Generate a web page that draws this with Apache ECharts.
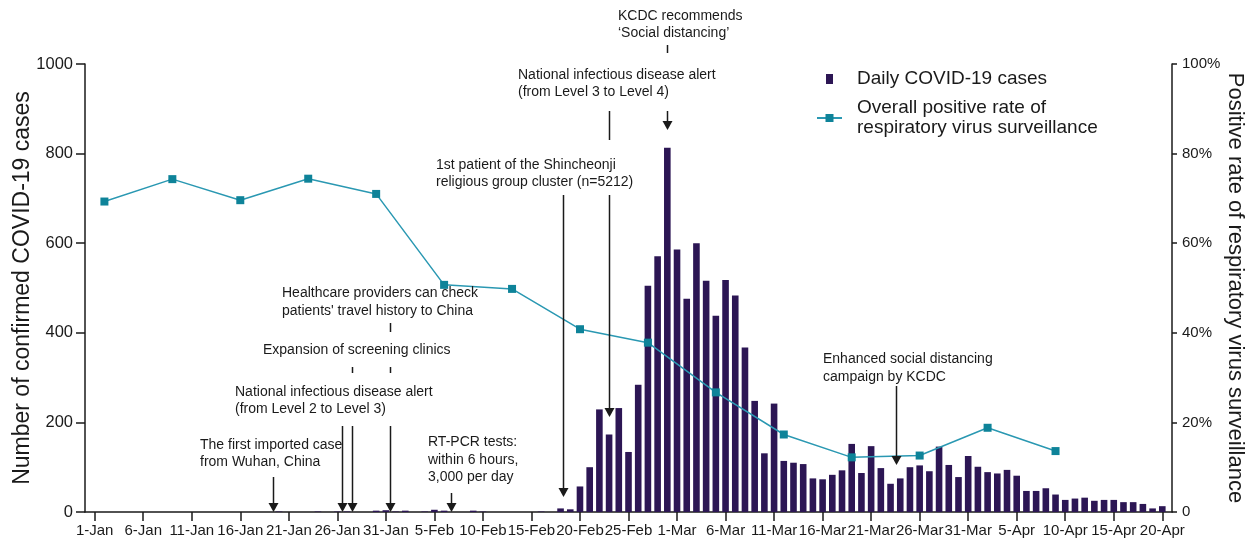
<!DOCTYPE html>
<html>
<head>
<meta charset="utf-8">
<script src="https://cdn.jsdelivr.net/npm/echarts@6/dist/echarts.min.js"></script>
<style>
  html, body { margin: 0; padding: 0; background: #ffffff; }
  #chart { width: 1257px; height: 543px; }
</style>
</head>
<body>
<div id="chart"></div>
<script>
// Daily confirmed COVID-19 cases, one value per day
const casesJan = [0,0,0,0,0,0,0,0,0,0, 0,0,0,0,0,0,0,0,0,1, 0,0,0,1,0,1,1,0,0,3, 4];
const casesFeb = [1,3,0,1,5,3,0,0,3,1, 0,0,0,0,0,1,0,8,6,57, 100,229,173,232,134,284,505,571,813];
const casesMar = [586,476,600,516,438,518,483,367,248,131, 242,114,110,107,75,73,83,93,152,87, 147,98,63,75,100,104,91,146,105,78, 125];
const casesApr = [101,89,86,94,81,47,47,53,39,27, 30,32,25,27,27,22,22,18,8,13];

// Weekly overall positive rate of respiratory virus surveillance (%)
const rateDates  = ['2-Jan','9-Jan','16-Jan','23-Jan','30-Jan','6-Feb','13-Feb','20-Feb','27-Feb','5-Mar','12-Mar','19-Mar','26-Mar','2-Apr','9-Apr'];
const rateValues = [69.3, 74.3, 69.6, 74.4, 71.0, 50.7, 49.8, 40.8, 37.8, 26.7, 17.3, 12.2, 12.6, 18.8, 13.6];

// Axis calendar: 31-Dec through 21-Apr, labelled every 5 days from 1-Jan to 20-Apr
const monthNames = ['Jan', 'Feb', 'Mar', 'Apr'];
const monthDays  = [31, 29, 31, 21];
const leftTicks  = [0, 200, 400, 600, 800, 1000];
const rightTicks = [0, 20, 40, 60, 80, 100];

const categories = ['31-Dec'];
monthNames.forEach((m, i) => {
  for (let d = 1; d <= monthDays[i]; d++) categories.push(d + '-' + m);
});
const caseValues = [].concat(casesJan, casesFeb, casesMar, casesApr);
const barData = caseValues.map((v, i) => [categories[i + 1], v]);
const lineData = rateDates.map((d, i) => [d, rateValues[i]]);
const lastLabelIndex = caseValues.length; // 20-Apr
const showDayMark = (idx) => idx >= 1 && idx <= lastLabelIndex && (idx - 1) % 5 === 0;

const SERIES_CASES = 'Daily COVID-19 cases';
const SERIES_RATE = 'Overall positive rate of\nrespiratory virus surveillance';

const FONT = '"Liberation Sans", Arial, Helvetica, sans-serif';
const INK = '#1a1a1a';

const chart = echarts.init(document.getElementById('chart'), null, { renderer: 'canvas' });

chart.setOption({
  animation: false,
  backgroundColor: '#ffffff',
  textStyle: { fontFamily: FONT },
  grid: { left: 85, right: 85, top: 64, bottom: 31, containLabel: false, outerBoundsMode: 'none' },
  legend: {
    orient: 'vertical',
    left: 811,
    top: 64,
    itemGap: 9,
    itemWidth: 25,
    itemHeight: 10,
    selectedMode: false,
    textStyle: { fontSize: 19, lineHeight: 20, color: INK, fontFamily: FONT, padding: [0, 0, 0, 10] },
    data: [
      { name: SERIES_CASES, icon: 'path://M0,0H7V10H0Z' },
      { name: SERIES_RATE }
    ]
  },
  xAxis: {
    type: 'category',
    data: categories,
    boundaryGap: false,
    axisLine: { lineStyle: { color: INK, width: 1.5 } },
    axisTick: { show: true, length: 9, interval: showDayMark, lineStyle: { color: INK, width: 1.5 } },
    axisLabel: { interval: showDayMark, fontSize: 15, color: INK, margin: 11, fontFamily: FONT },
    splitLine: { show: false }
  },
  yAxis: [
    {
      type: 'value',
      min: leftTicks[0],
      max: leftTicks[leftTicks.length - 1],
      interval: leftTicks[1] - leftTicks[0],
      name: 'Number of confirmed COVID-19 cases',
      nameLocation: 'middle',
      nameGap: 51,
      nameRotate: 90,
      nameMoveOverlap: false,
      nameTextStyle: { fontSize: 23, color: INK, fontFamily: FONT },
      axisLine: { show: true, lineStyle: { color: INK, width: 1.5 } },
      axisTick: { show: true, length: 9, lineStyle: { color: INK, width: 1.5 } },
      axisLabel: { fontSize: 16.5, color: INK, margin: 12, fontFamily: FONT, formatter: (v) => String(v) },
      splitLine: { show: false }
    },
    {
      type: 'value',
      position: 'right',
      min: rightTicks[0],
      max: rightTicks[rightTicks.length - 1],
      interval: rightTicks[1] - rightTicks[0],
      name: 'Positive rate of respiratory virus surveillance',
      nameLocation: 'middle',
      nameGap: 52,
      nameRotate: -90,
      nameMoveOverlap: false,
      nameTextStyle: { fontSize: 22, color: INK, fontFamily: FONT },
      axisLine: { show: true, lineStyle: { color: INK, width: 1.5 } },
      axisTick: { show: true, length: 5, lineStyle: { color: INK, width: 1.5 } },
      axisLabel: {
        fontSize: 15, color: INK, margin: 10, fontFamily: FONT,
        formatter: (v) => (v === 0 ? '0' : v + '%')
      },
      splitLine: { show: false }
    }
  ],
  series: [
    {
      name: SERIES_CASES,
      type: 'bar',
      yAxisIndex: 0,
      data: barData,
      barWidth: 6.6,
      itemStyle: { color: '#2c1654' },
      z: 2
    },
    {
      name: SERIES_RATE,
      type: 'line',
      yAxisIndex: 1,
      data: lineData,
      symbol: 'rect',
      symbolSize: 8,
      showSymbol: true,
      showAllSymbol: true,
      lineStyle: { color: '#2a98b2', width: 1.5 },
      itemStyle: { color: '#0e8399' },
      z: 3
    }
  ]
});

// Timeline annotations: text blocks and arrows anchored to calendar days
const notes = [
  { text: 'The first imported case\nfrom Wuhan, China', x: 200, y: 436 },
  { text: 'National infectious disease alert\n(from Level 2 to Level 3)', x: 235, y: 383 },
  { text: 'Expansion of screening clinics', x: 263, y: 341 },
  { text: 'Healthcare providers can check\npatients\' travel history to China', x: 282, y: 284.5 },
  { text: 'RT-PCR tests:\nwithin 6 hours,\n3,000 per day', x: 428, y: 433.5 },
  { text: '1st patient of the Shincheonji\nreligious group cluster (n=5212)', x: 436, y: 156 },
  { text: 'National infectious disease alert\n(from Level 3 to Level 4)', x: 518, y: 66 },
  { text: 'KCDC recommends\n\u2018Social distancing\u2019', x: 618, y: 7 },
  { text: 'Enhanced social distancing\ncampaign by KCDC', x: 823, y: 350.5 }
];

const arrows = [
  { day: '20-Jan', shift: -0.65, segs: [[477, 512]] },
  { day: '26-Jan', shift: 0.44, segs: [[426, 512]] },
  { day: '27-Jan', shift: 0.53, segs: [[367, 373], [426, 512]] },
  { day: '31-Jan', shift: 0.44, segs: [[323, 332], [367, 373], [426, 512]] },
  { day: '6-Feb', shift: 0.66, segs: [[493, 512]] },
  { day: '18-Feb', shift: 0.2, segs: [[195, 497]] },
  { day: '23-Feb', shift: 0, segs: [[111, 140], [195, 417]] },
  { day: '29-Feb', shift: 0, segs: [[45, 53], [111, 130]] },
  { day: '23-Mar', shift: 0.6, segs: [[386, 465]] }
];

const dayStep = chart.convertToPixel({ xAxisIndex: 0 }, '2-Jan') - chart.convertToPixel({ xAxisIndex: 0 }, '1-Jan');
const graphics = [];

notes.forEach((n) => {
  graphics.push({
    type: 'text',
    x: n.x,
    y: n.y,
    z: 10,
    style: {
      text: n.text,
      font: '14px ' + FONT,
      fill: INK,
      lineHeight: 17.5,
      verticalAlign: 'top',
      align: 'left'
    }
  });
});

arrows.forEach((a) => {
  const x = Math.round(chart.convertToPixel({ xAxisIndex: 0 }, a.day) + a.shift * dayStep) + 0.5;
  a.segs.forEach((s, i) => {
    const isLast = i === a.segs.length - 1;
    const headH = 9;
    graphics.push({
      type: 'line',
      z: 10,
      shape: { x1: x, y1: s[0], x2: x, y2: isLast ? s[1] - headH + 1 : s[1] },
      style: { stroke: INK, lineWidth: 1.5 }
    });
    if (isLast) {
      graphics.push({
        type: 'polygon',
        z: 10,
        shape: { points: [[x - 5, s[1] - headH], [x + 5, s[1] - headH], [x, s[1]]] },
        style: { fill: INK }
      });
    }
  });
});

chart.setOption({ graphic: graphics });
</script>
</body>
</html>
